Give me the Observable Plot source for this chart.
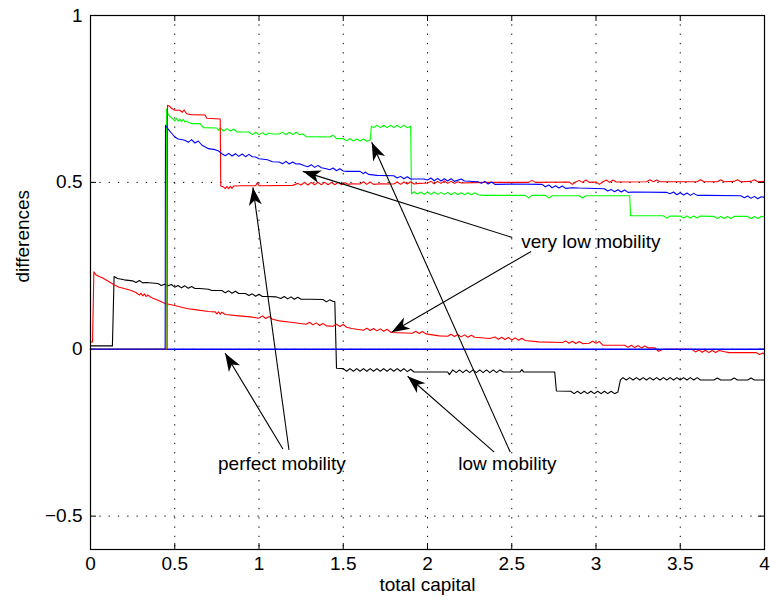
<!DOCTYPE html>
<html>
<head>
<meta charset="utf-8">
<script src="https://cdn.jsdelivr.net/npm/d3@7"></script>
<script src="https://cdn.jsdelivr.net/npm/@observablehq/plot@0.6"></script>
<style>
  html, body { margin: 0; padding: 0; background: #fff; }
</style>
</head>
<body>
<div id="chart"></div>
<script>
// ---- tick values and labels ----
const xTicks = [0, 0.5, 1, 1.5, 2, 2.5, 3, 3.5, 4];
const xTickLabels = ["0", "0.5", "1", "1.5", "2", "2.5", "3", "3.5", "4"];
const yTicks = [-0.5, 0, 0.5, 1];
const yTickLabels = ["\u22120.5", "0", "0.5", "1"];

// ---- series (x = total capital, y = difference) ----
const lowMobilityBlack = [
  [0,0.01],[0.13,0.01],[0.14,0.218],[0.16,0.212],[0.2,0.208],[0.25,0.205],[0.27,0.2],[0.29,0.206],[0.31,0.199],[0.33,0.2],
  [0.4,0.197],[0.42,0.191],[0.44,0.195],[0.46,0.19],[0.48,0.194],[0.5,0.186],[0.52,0.191],[0.54,0.184],[0.56,0.19],[0.58,0.183],
  [0.6,0.188],[0.62,0.182],[0.65,0.182],[0.7,0.18],[0.72,0.176],[0.78,0.176],[0.8,0.169],[0.82,0.175],[0.84,0.168],[0.86,0.174],
  [0.88,0.167],[0.92,0.167],[0.94,0.161],[0.96,0.166],[0.98,0.159],[1.0,0.165],[1.02,0.158],[1.05,0.158],[1.1,0.157],[1.13,0.152],
  [1.15,0.158],[1.17,0.151],[1.19,0.157],[1.21,0.15],[1.23,0.156],[1.25,0.15],[1.3,0.15],[1.38,0.149],[1.4,0.142],[1.42,0.148],
  [1.44,0.143],[1.45,0.143],[1.46,-0.057],[1.5,-0.058],[1.52,-0.066],[1.54,-0.058],[1.56,-0.066],[1.58,-0.058],[1.6,-0.066],
  [1.62,-0.058],[1.64,-0.066],[1.66,-0.058],[1.68,-0.066],[1.7,-0.058],[1.72,-0.066],[1.74,-0.058],[1.76,-0.066],[1.78,-0.058],
  [1.8,-0.066],[1.82,-0.058],[1.84,-0.066],[1.86,-0.058],[1.88,-0.067],[1.9,-0.06],[1.92,-0.068],[2.12,-0.068],[2.13,-0.076],
  [2.15,-0.062],[2.17,-0.07],[2.19,-0.062],[2.21,-0.07],[2.23,-0.062],[2.25,-0.07],[2.27,-0.062],[2.29,-0.07],[2.31,-0.062],
  [2.33,-0.07],[2.35,-0.062],[2.37,-0.07],[2.39,-0.062],[2.41,-0.07],[2.43,-0.062],[2.45,-0.068],[2.55,-0.068],[2.56,-0.061],
  [2.57,-0.068],[2.755,-0.068],[2.765,-0.125],[2.85,-0.126],[2.87,-0.133],[2.89,-0.126],[2.91,-0.133],[2.93,-0.126],[2.95,-0.133],
  [2.97,-0.126],[2.99,-0.133],[3.01,-0.126],[3.03,-0.133],[3.05,-0.126],[3.07,-0.133],[3.09,-0.126],[3.11,-0.133],[3.13,-0.128],
  [3.145,-0.092],[3.16,-0.085],[3.18,-0.092],[3.2,-0.085],[3.22,-0.092],[3.24,-0.085],[3.26,-0.092],[3.28,-0.085],[3.3,-0.092],
  [3.32,-0.085],[3.34,-0.092],[3.36,-0.085],[3.38,-0.092],[3.4,-0.085],[3.42,-0.092],[3.44,-0.085],[3.46,-0.092],[3.48,-0.085],
  [3.5,-0.092],[3.52,-0.085],[3.54,-0.092],[3.56,-0.085],[3.58,-0.092],[3.6,-0.085],[3.62,-0.092],[3.7,-0.092],[3.72,-0.086],
  [3.74,-0.092],[3.8,-0.092],[3.82,-0.086],[3.84,-0.092],[3.9,-0.092],[3.92,-0.086],[3.94,-0.092],[4,-0.092]
];

const veryLowRedLower = [
  [0,0.022],[0.012,0.022],[0.02,0.232],[0.03,0.224],[0.05,0.218],[0.07,0.214],[0.09,0.208],[0.11,0.202],[0.137,0.194],
  [0.17,0.186],[0.2,0.182],[0.237,0.177],[0.27,0.17],[0.29,0.162],[0.3,0.168],[0.31,0.16],[0.32,0.166],[0.33,0.158],[0.34,0.163],
  [0.36,0.155],[0.4,0.147],[0.444,0.137],[0.5,0.131],[0.57,0.122],[0.63,0.118],[0.7,0.113],[0.74,0.112],[0.75,0.106],[0.76,0.112],
  [0.77,0.105],[0.78,0.111],[0.8,0.104],[0.88,0.1],[0.95,0.097],[1.0,0.093],[1.02,0.1],[1.04,0.092],[1.06,0.098],[1.08,0.09],
  [1.12,0.085],[1.2,0.08],[1.28,0.075],[1.3,0.081],[1.32,0.073],[1.34,0.079],[1.36,0.071],[1.38,0.077],[1.4,0.07],[1.44,0.069],
  [1.46,0.075],[1.48,0.068],[1.5,0.074],[1.52,0.066],[1.55,0.062],[1.62,0.057],[1.64,0.063],[1.66,0.056],[1.68,0.062],[1.7,0.055],
  [1.72,0.061],[1.74,0.054],[1.76,0.06],[1.785,0.05],[1.91,0.048],[1.93,0.054],[1.95,0.047],[1.97,0.053],[1.99,0.046],[2.07,0.04],
  [2.12,0.039],[2.14,0.045],[2.16,0.038],[2.18,0.044],[2.2,0.037],[2.22,0.043],[2.24,0.036],[2.26,0.042],[2.28,0.036],[2.37,0.032],
  [2.4,0.037],[2.42,0.03],[2.44,0.036],[2.46,0.029],[2.48,0.035],[2.5,0.028],[2.52,0.034],[2.54,0.027],[2.56,0.033],[2.58,0.026],
  [2.66,0.022],[2.8,0.02],[2.82,0.025],[2.84,0.018],[2.86,0.024],[2.88,0.017],[2.9,0.023],[2.92,0.017],[2.96,0.018],[2.98,0.024],
  [3.0,0.018],[3.02,0.023],[3.04,0.012],[3.17,0.012],[3.19,0.006],[3.21,0.012],[3.23,0.005],[3.25,0.011],[3.27,0.004],[3.29,0.01],
  [3.31,0.004],[3.35,0.004],[3.37,-0.006],[3.4,0.0],[3.57,0.0],[3.59,-0.008],[3.61,-0.002],[3.63,-0.009],[3.65,-0.003],[3.67,-0.01],
  [3.69,-0.004],[3.71,-0.01],[3.73,-0.004],[3.77,-0.008],[3.79,-0.01],[3.95,-0.01],[3.97,-0.016],[3.99,-0.011],[4,-0.015]
];

const perfectBlueZero = [[0,0],[4,0]];

const veryLowGreen = [
  [0,0],[0.449,0],[0.451,0.72],[0.46,0.705],[0.47,0.698],[0.49,0.69],[0.5,0.684],[0.51,0.692],[0.52,0.683],[0.53,0.69],
  [0.54,0.682],[0.55,0.689],[0.56,0.681],[0.57,0.683],[0.6,0.676],[0.65,0.676],[0.67,0.664],[0.75,0.663],[0.76,0.656],[0.77,0.663],
  [0.79,0.654],[0.81,0.661],[0.83,0.654],[0.85,0.66],[0.87,0.651],[0.94,0.651],[0.96,0.643],[0.98,0.65],[1.0,0.643],[1.02,0.649],
  [1.04,0.642],[1.06,0.648],[1.08,0.645],[1.12,0.645],[1.14,0.65],[1.16,0.643],[1.18,0.65],[1.2,0.643],[1.22,0.65],[1.24,0.643],
  [1.26,0.645],[1.28,0.637],[1.42,0.636],[1.44,0.642],[1.45,0.636],[1.46,0.631],[1.5,0.631],[1.52,0.625],[1.54,0.631],[1.56,0.624],
  [1.58,0.63],[1.6,0.624],[1.62,0.63],[1.64,0.623],[1.66,0.627],[1.667,0.668],[1.68,0.664],[1.7,0.671],[1.72,0.664],[1.74,0.671],
  [1.76,0.664],[1.78,0.671],[1.8,0.664],[1.82,0.671],[1.84,0.664],[1.86,0.671],[1.88,0.664],[1.9,0.668],[1.905,0.466],[1.92,0.472],
  [1.94,0.465],[1.96,0.471],[1.98,0.464],[2.0,0.471],[2.02,0.464],[2.04,0.471],[2.06,0.464],[2.08,0.47],[2.1,0.464],[2.12,0.47],
  [2.14,0.463],[2.16,0.47],[2.18,0.463],[2.2,0.469],[2.22,0.463],[2.24,0.469],[2.26,0.463],[2.28,0.469],[2.3,0.463],[2.33,0.461],
  [2.58,0.461],[2.6,0.454],[2.62,0.461],[2.7,0.461],[2.72,0.453],[2.74,0.46],[2.9,0.46],[2.92,0.453],[2.94,0.46],[3.2,0.46],
  [3.205,0.4],[3.4,0.4],[3.42,0.393],[3.44,0.399],[3.5,0.399],[3.52,0.393],[3.54,0.399],[3.56,0.393],[3.58,0.399],[3.6,0.393],
  [3.62,0.399],[3.7,0.398],[3.72,0.392],[3.74,0.398],[3.76,0.392],[3.78,0.398],[3.8,0.392],[3.82,0.398],[3.9,0.398],[3.92,0.392],
  [3.94,0.398],[3.96,0.392],[3.98,0.398],[4,0.397]
];

const perfectRedUpper = [
  [0,0],[0.455,0],[0.457,0.731],[0.47,0.728],[0.48,0.722],[0.5,0.716],[0.53,0.716],[0.545,0.71],[0.555,0.717],[0.565,0.709],
  [0.575,0.705],[0.6,0.703],[0.68,0.702],[0.69,0.692],[0.77,0.69],[0.773,0.489],[0.79,0.486],[0.8,0.481],[0.81,0.488],[0.82,0.481],
  [0.83,0.488],[0.84,0.482],[0.85,0.489],[0.9,0.49],[0.98,0.49],[0.99,0.499],[1.0,0.49],[1.2,0.491],[1.23,0.497],[1.25,0.492],
  [1.27,0.5],[1.29,0.492],[1.31,0.5],[1.33,0.493],[1.35,0.5],[1.37,0.493],[1.39,0.5],[1.41,0.493],[1.43,0.5],[1.45,0.493],
  [1.47,0.5],[1.49,0.493],[1.51,0.499],[1.53,0.494],[1.55,0.496],[1.6,0.495],[1.62,0.502],[1.64,0.494],[1.66,0.501],[1.68,0.494],
  [1.72,0.496],[1.8,0.495],[1.82,0.501],[1.84,0.494],[1.86,0.501],[1.88,0.495],[1.9,0.502],[1.92,0.495],[1.95,0.497],[2.0,0.498],
  [2.02,0.503],[2.04,0.496],[2.06,0.503],[2.08,0.497],[2.1,0.504],[2.12,0.497],[2.14,0.503],[2.16,0.497],[2.18,0.502],[2.2,0.498],
  [2.35,0.5],[2.6,0.5],[2.62,0.506],[2.64,0.5],[2.84,0.501],[2.86,0.494],[2.88,0.501],[2.9,0.506],[2.92,0.5],[2.94,0.507],
  [2.96,0.5],[3.0,0.501],[3.02,0.494],[3.04,0.501],[3.06,0.507],[3.08,0.5],[3.1,0.507],[3.12,0.501],[3.3,0.502],[3.32,0.508],
  [3.34,0.502],[3.36,0.507],[3.38,0.502],[3.6,0.502],[3.62,0.508],[3.64,0.502],[3.72,0.502],[3.74,0.508],[3.76,0.502],[3.82,0.503],
  [3.84,0.508],[3.86,0.502],[3.92,0.503],[3.94,0.508],[3.96,0.502],[4,0.503]
];

const veryLowBlueUpper = [
  [0,0],[0.443,0],[0.445,0.671],[0.46,0.66],[0.48,0.648],[0.5,0.636],[0.52,0.63],[0.56,0.626],[0.58,0.62],[0.6,0.628],
  [0.62,0.618],[0.64,0.624],[0.66,0.612],[0.7,0.601],[0.74,0.598],[0.76,0.594],[0.78,0.586],[0.8,0.58],[0.82,0.587],[0.84,0.579],
  [0.86,0.586],[0.88,0.578],[0.9,0.585],[0.92,0.577],[0.94,0.584],[0.96,0.577],[0.98,0.576],[1.0,0.571],[1.05,0.568],[1.08,0.562],
  [1.12,0.561],[1.14,0.556],[1.16,0.563],[1.18,0.555],[1.2,0.561],[1.22,0.555],[1.24,0.556],[1.27,0.55],[1.29,0.547],[1.31,0.553],
  [1.33,0.545],[1.35,0.551],[1.37,0.544],[1.4,0.541],[1.42,0.538],[1.44,0.543],[1.46,0.535],[1.48,0.541],[1.5,0.534],[1.52,0.533],
  [1.6,0.533],[1.62,0.526],[1.63,0.531],[1.65,0.524],[1.7,0.521],[1.8,0.52],[1.82,0.513],[1.84,0.518],[1.86,0.511],[1.88,0.517],
  [1.9,0.51],[1.98,0.51],[2.0,0.507],[2.02,0.513],[2.04,0.505],[2.06,0.512],[2.08,0.504],[2.1,0.511],[2.12,0.504],[2.14,0.511],
  [2.16,0.503],[2.2,0.51],[2.22,0.504],[2.3,0.502],[2.32,0.497],[2.34,0.503],[2.36,0.495],[2.38,0.501],[2.4,0.494],[2.5,0.495],
  [2.68,0.494],[2.7,0.487],[2.72,0.492],[2.74,0.484],[2.76,0.49],[2.78,0.483],[2.8,0.489],[2.82,0.482],[2.86,0.484],[2.9,0.483],
  [3.05,0.481],[3.07,0.474],[3.09,0.479],[3.11,0.472],[3.13,0.478],[3.15,0.471],[3.17,0.477],[3.19,0.47],[3.22,0.471],[3.42,0.47],
  [3.44,0.466],[3.46,0.471],[3.48,0.463],[3.5,0.469],[3.52,0.462],[3.54,0.468],[3.56,0.461],[3.58,0.467],[3.6,0.461],[3.66,0.461],
  [3.86,0.46],[3.88,0.454],[3.9,0.459],[3.92,0.452],[3.94,0.458],[3.96,0.451],[3.98,0.457],[4,0.455]
];

// ---- annotations (data coordinates) ----
const annotationTexts = [
  {x: 2.556, y: 0.323, text: "very low mobility"},
  {x: 2.183, y: -0.344, text: "low mobility"},
  {x: 0.757, y: -0.344, text: "perfect mobility"}
];
const annotationArrows = [
  {x1: 2.503, y1: 0.335, x2: 1.260, y2: 0.533},
  {x1: 2.615, y1: 0.293, x2: 1.787, y2: 0.051},
  {x1: 2.491, y1: -0.308, x2: 1.669, y2: 0.620},
  {x1: 2.396, y1: -0.308, x2: 1.882, y2: -0.081},
  {x1: 1.142, y1: -0.299, x2: 0.799, y2: -0.012},
  {x1: 1.178, y1: -0.302, x2: 0.964, y2: 0.485}
];

// filled, notched arrowheads drawn in screen space at each link's end
function arrowHeads(index, scales, values, dimensions, context, next) {
  const g = next(index, scales, values, dimensions, context);
  const {x1, y1, x2, y2} = values;
  const sel = d3.select(g);
  const L = 18, W = 6.5, N = 13;
  for (const i of index) {
    const tx = x2[i], ty = y2[i];
    const dx = tx - x1[i], dy = ty - y1[i];
    const len = Math.hypot(dx, dy);
    const ux = dx / len, uy = dy / len;
    const px = -uy, py = ux;
    const bx = tx - L * ux, by = ty - L * uy;
    const nx = tx - N * ux, ny = ty - N * uy;
    sel.append("path")
      .attr("d", `M${tx},${ty}L${bx + W * px},${by + W * py}L${nx},${ny}L${bx - W * px},${by - W * py}Z`)
      .attr("fill", "black")
      .attr("stroke", "none");
  }
  return g;
}

const X = d => d[0], Y = d => d[1];
const FS = 19;

const chart = Plot.plot({
  width: 770,
  height: 603,
  marginLeft: 90,
  marginRight: 6,
  marginTop: 15,
  marginBottom: 54,
  style: {fontFamily: "'Liberation Sans', Arial, Helvetica, sans-serif", fontSize: FS + "px", background: "white", color: "black"},
  x: {domain: [0, 4], ticks: xTicks, tickSize: 0, tickPadding: 7, tickFormat: d => xTickLabels[xTicks.indexOf(d)], label: null},
  y: {domain: [-0.6, 1], ticks: yTicks, tickSize: 0, tickPadding: 8, tickFormat: d => yTickLabels[yTicks.indexOf(d)], label: null},
  marks: [
    // dotted grid
    Plot.ruleX(xTicks, {x: d => d, stroke: "black", strokeWidth: 1, strokeDasharray: "1.3,8"}),
    Plot.ruleY(yTicks, {y: d => d, stroke: "black", strokeWidth: 1, strokeDasharray: "1.3,8"}),
    // inward ticks on all four sides
    Plot.tickX(xTicks, {x: d => d, insetTop: 528, stroke: "black"}),
    Plot.tickX(xTicks, {x: d => d, insetBottom: 528, stroke: "black"}),
    Plot.tickY(yTicks, {y: d => d, insetRight: 668, stroke: "black"}),
    Plot.tickY(yTicks, {y: d => d, insetLeft: 668, stroke: "black"}),
    // series
    Plot.line(lowMobilityBlack, {x: X, y: Y, stroke: "black", strokeWidth: 1.1}),
    Plot.line(veryLowRedLower, {x: X, y: Y, stroke: "#ff0000", strokeWidth: 1.1}),
    Plot.line(perfectBlueZero, {x: X, y: Y, stroke: "#0000ff", strokeWidth: 1.6}),
    Plot.line(veryLowGreen, {x: X, y: Y, stroke: "#00ff00", strokeWidth: 1.1}),
    Plot.line(perfectRedUpper, {x: X, y: Y, stroke: "#ff0000", strokeWidth: 1.1}),
    Plot.line(veryLowBlueUpper, {x: X, y: Y, stroke: "#0000ff", strokeWidth: 1.1}),
    // box
    Plot.frame({stroke: "black", strokeWidth: 1.2}),
    // annotations
    Plot.link(annotationArrows, {x1: "x1", y1: "y1", x2: "x2", y2: "y2", stroke: "black", strokeWidth: 1.1, render: arrowHeads}),
    Plot.text(annotationTexts, {x: "x", y: "y", text: "text", textAnchor: "start", fontSize: FS, fill: "black"}),
    // axis titles
    Plot.text(["total capital"], {frameAnchor: "bottom", dy: 41, text: d => d, fontSize: FS, fill: "black"}),
    Plot.text(["differences"], {frameAnchor: "left", dx: -68, rotate: -90, text: d => d, fontSize: FS, fill: "black"})
  ]
});
document.getElementById("chart").appendChild(chart);
</script>
</body>
</html>
